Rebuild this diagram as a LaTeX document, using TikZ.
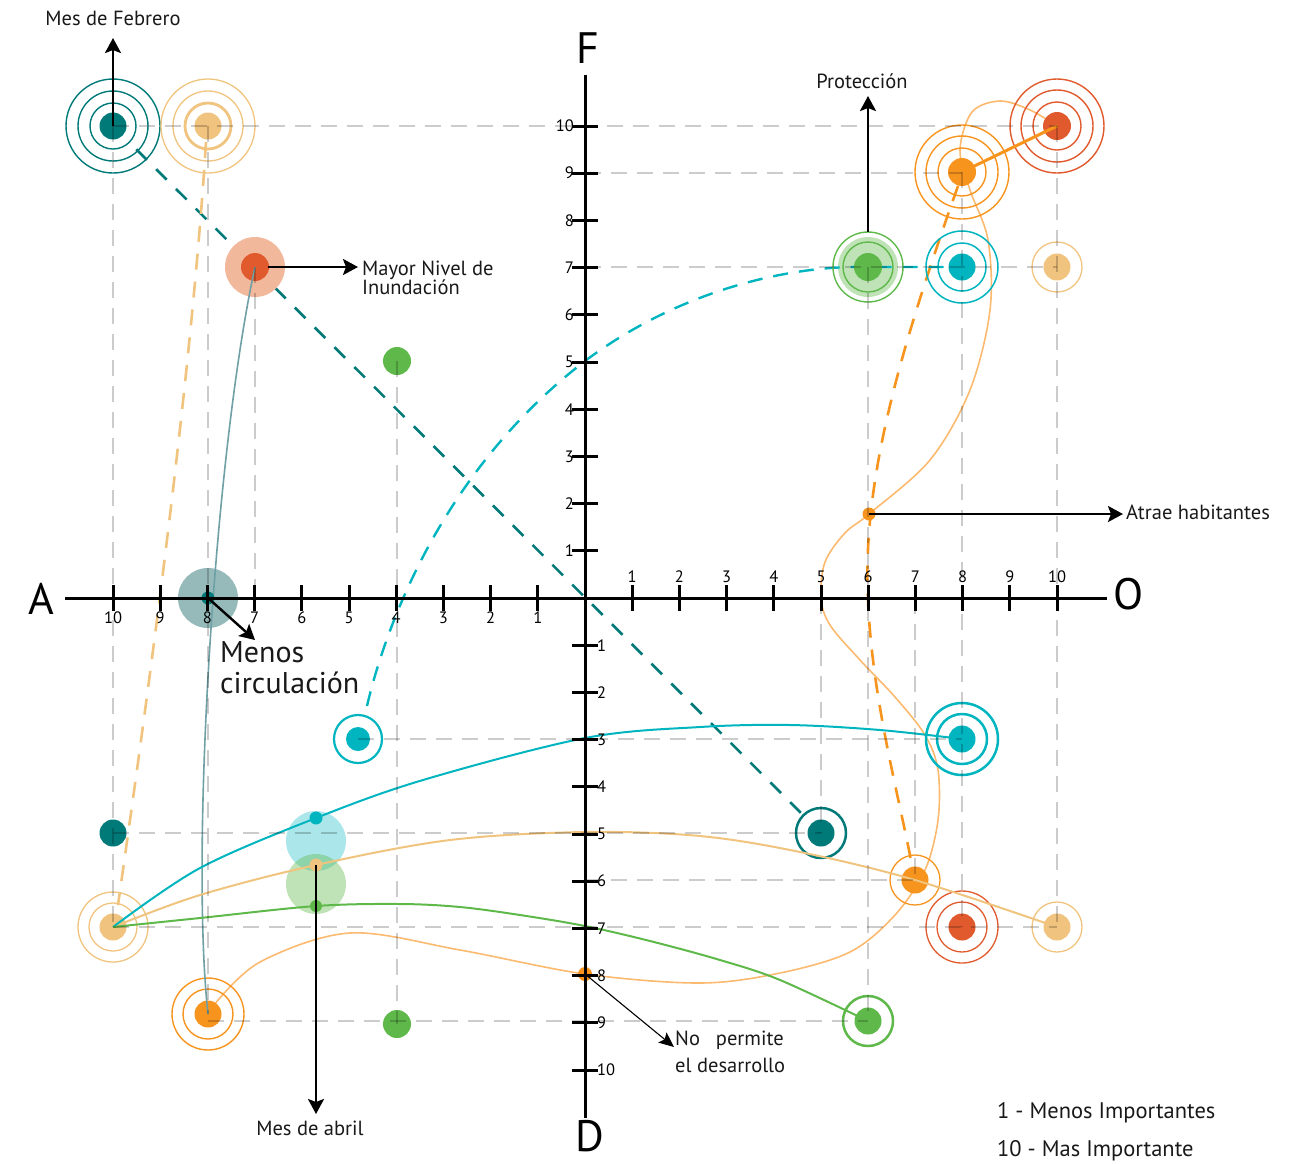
\documentclass[tikz,border=0pt]{standalone}
\usepackage{fontspec}
\setmainfont{PT Sans}
\usetikzlibrary{arrows.meta,calc}
\definecolor{cteal}{RGB}{0,122,120}
\definecolor{clor}{RGB}{240,196,126}
\definecolor{cred}{RGB}{224,90,45}
\definecolor{csalmon}{RGB}{242,184,156}
\definecolor{cgreen}{RGB}{94,185,74}
\definecolor{ccyan}{RGB}{0,181,192}
\definecolor{corange}{RGB}{247,148,30}
\definecolor{cpeach}{RGB}{252,186,112}
\definecolor{ctgray}{RGB}{110,160,165}
\definecolor{ctdisc}{RGB}{150,186,186}
\begin{document}
\begin{tikzpicture}[x=1pt,y=-1pt,
  gridline/.style={black, opacity=0.2, line width=2.2pt, dash pattern=on 16pt off 10pt},
  axisline/.style={line width=3pt, black},
  tickmark/.style={line width=3pt, black},
  ticklab/.style={font=\fontsize{16.5}{16.5}\selectfont, inner sep=0pt},
  lab/.style={font=\fontsize{20.5}{20.5}\selectfont, inner sep=0pt, text=black!90},
  biglab/.style={font=\fontsize{44}{44}\selectfont, inner sep=0pt},
  arr/.style={line width=2.6pt, -{Stealth[length=15pt, width=16pt, inset=3pt]}},
  thinarr/.style={line width=1.1pt, -{Stealth[length=15pt, width=13pt, inset=3pt]}},
  tdash/.style={cteal, line width=2.6pt, dash pattern=on 15pt off 13pt},
  odash/.style={clor, line width=2.6pt, dash pattern=on 16pt off 12pt},
  ordash/.style={corange, line width=2.6pt, dash pattern=on 16pt off 12pt},
  cdash/.style={ccyan, line width=2.4pt, dash pattern=on 15pt off 11pt}]
\useasboundingbox (0,0) rectangle (1304,1163);

% ---------- points ----------
\coordinate (tA) at (113,126);
\coordinate (oA) at (208,126);
\coordinate (rM) at (255,267);
\coordinate (gA) at (397,361);
\coordinate (tM) at (208,598);
\coordinate (cL) at (358,739);
\coordinate (tL) at (113,833);
\coordinate (oL) at (113,927);
\coordinate (orL) at (208,1014);
\coordinate (gL) at (397,1024);
\coordinate (cD) at (316,841);
\coordinate (gD) at (316,884);
\coordinate (sC) at (316,818);
\coordinate (sO) at (316,865);
\coordinate (sG) at (316,906);
\coordinate (gR) at (868,267);
\coordinate (cR) at (962,267);
\coordinate (oR7) at (1057,267);
\coordinate (oR9) at (962,172);
\coordinate (rR) at (1057,126);
\coordinate (cR3) at (962,739);
\coordinate (tR) at (821,833);
\coordinate (oR6) at (915,880);
\coordinate (rR7) at (962,927);
\coordinate (oR10) at (1057,927);
\coordinate (gR9) at (868,1021);
\coordinate (dA) at (869,514);
\coordinate (dN) at (585,974);

% ---------- dashed connectors (under) ----------
\draw[tdash] ($(tA)!33pt!(tR)$) -- ($(tR)!26pt!(tA)$);
\draw[odash] ($(oA)+(-2,16)$) .. controls (190,400) and (140,750) .. ($(oL)+(5,-22)$);
\draw[ordash] ($(oR9)+(-4,14)$) .. controls (900,350) and (862,480) .. (868,600) .. controls (872,700) and (900,800) .. ($(oR6)+(-3,-14)$);

% ---------- discs ----------
\fill[csalmon] (rM) circle (30pt);
\fill[ctdisc] (tM) circle (30pt);
\fill[ccyan, opacity=0.33] (cD) circle (30pt);
\fill[cgreen, opacity=0.4] (gD) circle (30pt);
\fill[cgreen, opacity=0.4] (gR) circle (30pt);

% ---------- connectors ----------
\draw[cpeach, line width=1.6pt] plot[smooth, tension=0.55] coordinates {
 (214,1005) (260,962) (350,933) (460,950) (dN) (700,983) (780,973) (850,952) (895,915)
 (925,870) (938,820) (938,770) (925,735) (895,697) (860,660) (830,625) (821,598)
 (825,562) (845,533) (dA) (930,460) (970,390) (990,310) (988,240) (970,190)
 (960,150) (972,112) (1000,101) (1030,110) (rR)};
\draw[cdash] ($(cL)+(9,-33)$) .. controls (380,650) and (430,480) .. (585,361) .. controls (680,290) and (790,265) .. (gR) -- (cR);

% ---------- dots and rings ----------
\fill[cteal] (tA) circle (13.5pt);
\draw[cteal, line width=1.4pt] (tA) circle (23pt) (tA) circle (35pt) (tA) circle (47pt);
\fill[clor] (oA) circle (13.5pt);
\draw[clor, line width=2.8pt] (oA) circle (23pt);
\draw[clor, line width=1.3pt] (oA) circle (35pt) (oA) circle (47pt);
\fill[cred] (rM) circle (14pt);
\fill[cgreen] (gA) circle (14pt);
\fill[ccyan] (cL) circle (12pt);
\draw[ccyan, line width=2.2pt] (cL) circle (24pt);
\fill[cteal] (tL) circle (13.5pt);
\fill[clor] (oL) circle (13.5pt);
\draw[clor, line width=1.3pt] (oL) circle (24pt) (oL) circle (35pt);
\fill[corange] (orL) circle (13.5pt);
\draw[corange, line width=1.4pt] (orL) circle (25pt) (orL) circle (36pt);
\fill[cgreen] (gL) circle (14pt);
\draw[cgreen, line width=1.4pt] (gR) circle (35pt) (gR) circle (25pt);
\fill[cgreen] (gR) circle (14pt);
\fill[ccyan] (cR) circle (13.5pt);
\draw[ccyan, line width=1.5pt] (cR) circle (24pt) (cR) circle (36pt);
\fill[clor] (oR7) circle (13.5pt);
\draw[clor, line width=1.3pt] (oR7) circle (25pt);
\fill[corange] (oR9) circle (14pt);
\draw[corange, line width=1.4pt] (oR9) circle (24pt) (oR9) circle (36pt) (oR9) circle (47pt);
\fill[cred] (rR) circle (14pt);
\draw[cred, line width=1.4pt] (rR) circle (24pt) (rR) circle (36pt) (rR) circle (47pt);
\fill[ccyan] (cR3) circle (13.5pt);
\draw[ccyan, line width=2.5pt] (cR3) circle (25pt) (cR3) circle (36pt);
\fill[cteal] (tR) circle (13.5pt);
\draw[cteal, line width=2.5pt] (tR) circle (25pt);
\fill[corange] (oR6) circle (13.5pt);
\draw[corange, line width=1.3pt] (oR6) circle (25pt);
\fill[cred] (rR7) circle (13.5pt);
\draw[cred, line width=1.3pt] (rR7) circle (25pt) (rR7) circle (36pt);
\fill[clor] (oR10) circle (13.5pt);
\draw[clor, line width=1.3pt] (oR10) circle (25pt);
\fill[cgreen] (gR9) circle (13.5pt);
\draw[cgreen, line width=2.5pt] (gR9) circle (25pt);

% ---------- connectors on top ----------
\draw[corange, line width=3pt] (oR9) -- (rR);
\draw[ctgray, line width=1.6pt] (rM) .. controls (215,450) and (190,850) .. (orL);
\draw[clor, line width=2pt] plot[smooth, tension=0.55] coordinates {
 (oL) (200,895) (sO) (450,840) (585,832) (700,836) (800,852) (oR6) (oR10)};
\draw[ccyan, line width=2pt] plot[smooth, tension=0.55] coordinates {
 (oL) (200,868) (sC) (423,780) (585,738) (700,727) (790,725) (880,730) (cR3)};
\draw[cgreen, line width=2pt] plot[smooth, tension=0.55] coordinates {
 (oL) (200,918) (sG) (400,904) (460,907) (520,915) (585,926) (650,941) (720,960) (780,980) (gR9)};

% ---------- small dots ----------
\fill[cteal] (tM) circle (6.5pt);
\fill[ccyan] (sC) circle (6.5pt);
\fill[clor] (sO) circle (6.5pt);
\fill[cgreen] (sG) circle (6pt);
\fill[corange] (dA) circle (6.5pt);
\fill[corange] (dN) circle (7pt);

% ---------- grid ----------
\begin{scope}[gridline]
\draw (113,126) -- (1057,126);
\draw (585,173) -- (962,173);
\draw (585,267) -- (1057,267);
\draw (358,739) -- (962,739);
\draw (113,833) -- (821,833);
\draw (585,880) -- (915,880);
\draw (113,927) -- (1057,927);
\draw (208,1021) -- (868,1021);
\draw (113,126) -- (113,927);
\draw (208,126) -- (208,1014);
\draw (255,267) -- (255,598);
\draw (397,361) -- (397,1024);
\draw (821,598) -- (821,833);
\draw (868,267) -- (868,1021);
\draw (915,598) -- (915,880);
\draw (962,172) -- (962,927);
\draw (1057,126) -- (1057,927);
\end{scope}

% ---------- axes ----------
\draw[axisline] (65,598) -- (1107,598);
\draw[axisline] (585,75) -- (585,1118);
\foreach \i in {1,...,10} {
  \draw[tickmark] ({585+47.2*\i},585) -- ({585+47.2*\i},611);
  \draw[tickmark] ({585-47.2*\i},585) -- ({585-47.2*\i},611);
  \draw[tickmark] (572,{598-47.2*\i}) -- (598,{598-47.2*\i});
  \draw[tickmark] (572,{598+47.2*\i}) -- (598,{598+47.2*\i});
  \node[ticklab] at ({585+47.2*\i},577) {\i};
  \node[ticklab] at ({585-47.2*\i},618) {\i};
  \node[ticklab, anchor=east] at (574,{598-47.2*\i}) {\i};
  \node[ticklab, anchor=west] at (597,{598+47.2*\i}) {\i};
}
\node[biglab] (axA) at (41,599) {A};
\node[biglab] (axO) at (1129,594) {O};
\node[biglab] (axF) at (588,48) {F};
\node[biglab] (axD) at (590,1136) {D};

% ---------- labels and arrows ----------
\node[lab] (tFeb) at (113,18) {Mes de Febrero};
\coordinate (febTip) at (113,38);
\draw[arr] (tA) -- (febTip);

\node[lab, anchor=west, align=left, font=\fontsize{20.5}{19.5}\selectfont] (tMay) at (362,278) {Mayor Nivel de\\Inundación};
\draw[arr, shorten <=13pt, shorten >=4pt] (rM) -- (rM -| tMay.west);

\node[lab, anchor=base west, font=\fontsize{30}{30}\selectfont] (tMen1) at (220,662) {Menos};
\node[lab, anchor=base west, font=\fontsize{30}{30}\selectfont] (tMen2) at (220,693) {circulación};
\coordinate (menTip) at (255,640);
\draw[arr, line width=2.4pt] (tM) -- (menTip);

\node[lab] (tPro) at (862,81) {Protección};
\coordinate (proTip) at (868,96);
\draw[arr, shorten <=35pt] (gR) -- (proTip);

\node[lab, anchor=west] (tAtr) at (1126,512) {Atrae habitantes};
\draw[arr, shorten >=3pt] (dA) -- (dA -| tAtr.west);

\node[lab, anchor=north west, align=left, font=\fontsize{20.5}{27}\selectfont] (tNo) at (675,1031) {No\hspace{16pt}permite\\el desarrollo};
\coordinate (noTip) at (674,1047);
\draw[thinarr] (dN) -- (noTip);

\node[lab] (tAbr) at (310,1128) {Mes de abril};
\coordinate (abrTip) at (316,1114);
\draw[arr] (sO) -- (abrTip);

\node[lab, anchor=west, font=\fontsize{22.5}{22.5}\selectfont] (leg1) at (997,1113) {1 - Menos Importantes};
\node[lab, anchor=west, font=\fontsize{22.5}{22.5}\selectfont] (leg2) at (997,1151) {10 - Mas Importante};
\end{tikzpicture}
\end{document}
